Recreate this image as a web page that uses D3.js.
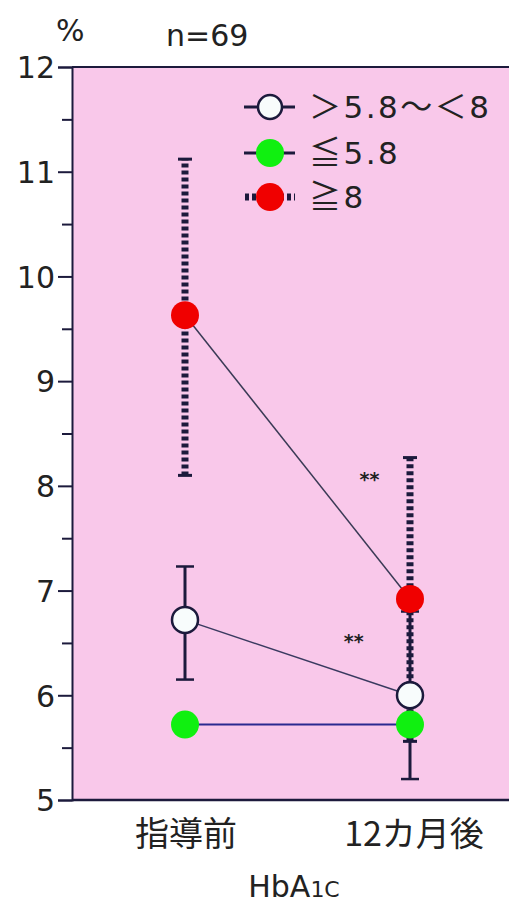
<!DOCTYPE html>
<html>
<head>
<meta charset="utf-8">
<script src="https://cdn.jsdelivr.net/npm/d3@7"></script>
<style>
  body { margin: 0; background: #fff; }
  svg { display: block; }
</style>
</head>
<body>
<div id="chart"></div>
<script>
var width = 509;
var height = 903;

// data
var categories = ["指導前", "12カ月後"];
var groups = ["mid", "low", "high"];
var groupLabels = [["＞", "5.8", "～", "＜", "8"], ["≦", "5.8"], ["≧", "8"]];
var midMean = [6.72, 6.0];
var midLow = [6.15, 5.2];
var midHigh = [7.23, 6.8];
var lowMean = [5.72, 5.72];
var highMean = [9.63, 6.92];
var highLow = [8.1, 5.56];
var highHigh = [11.12, 8.27];
var yTicks = [5, 6, 7, 8, 9, 10, 11, 12];
var yMinor = [5.5, 6.5, 7.5, 8.5, 9.5, 10.5, 11.5];
var stars = [{ label: "**", x: 0.82, y: 8.0 }, { label: "**", x: 0.75, y: 6.45 }];

var margin = { top: 67, left: 72, bottom: 103, right: 0 };
var latin = "DejaVu Sans, sans-serif";
var cjk = "Noto Sans CJK JP, sans-serif";

var svg = d3
  .select("#chart")
  .append("svg")
  .attr("width", width)
  .attr("height", height);

var y = d3.scaleLinear().domain([5, 12]).range([height - margin.bottom, margin.top]);
var x = d3.scalePoint().domain([0, 1]).range([185, 410]);

var ink = "#1c1a3c";

// pink panel
svg.append("rect")
  .attr("x", margin.left)
  .attr("y", margin.top)
  .attr("width", width - margin.left)
  .attr("height", height - margin.bottom - margin.top)
  .attr("fill", "#f9c8ea");

svg.append("line")
  .attr("x1", margin.left).attr("x2", width)
  .attr("y1", margin.top).attr("y2", margin.top)
  .attr("stroke", ink).attr("stroke-width", 2);
svg.append("line")
  .attr("x1", margin.left).attr("x2", width)
  .attr("y1", y(5)).attr("y2", y(5))
  .attr("stroke", ink).attr("stroke-width", 2.5);

// y axis
var yAxis = d3.axisLeft(y).tickValues(yTicks).tickSize(14).tickPadding(3).tickFormat(d3.format("d"));
var ga = svg.append("g")
  .attr("transform", "translate(" + margin.left + ",0)")
  .call(yAxis);
ga.select(".domain").attr("stroke", ink).attr("stroke-width", 2);
ga.selectAll(".tick line").attr("stroke", ink).attr("stroke-width", 2);
ga.selectAll(".tick text")
  .attr("font-family", latin)
  .attr("font-size", "30px")
  .attr("fill", "#222")
  .attr("dy", "0.36em");
var gm = svg.append("g")
  .attr("transform", "translate(" + margin.left + ",0)")
  .call(d3.axisLeft(y).tickValues(yMinor).tickSize(10).tickFormat(""));
gm.select(".domain").remove();
gm.selectAll(".tick line").attr("stroke", ink).attr("stroke-width", 2);

// top texts
svg.append("text").attr("x", 56).attr("y", 41).text("%")
  .attr("font-family", latin).attr("font-size", "30px").attr("fill", "#222");
svg.append("text").attr("x", 166).attr("y", 46).text("n=69")
  .attr("font-family", latin).attr("font-size", "30px").attr("fill", "#222");

// category labels
svg.selectAll(".cat")
  .data(categories)
  .enter()
  .append("text")
  .attr("class", "cat")
  .attr("x", function(d, i) { return x(i) + (i == 0 ? 1 : 4); })
  .attr("y", 846)
  .attr("text-anchor", "middle")
  .attr("font-family", cjk)
  .attr("font-size", "34px")
  .attr("fill", "#222")
  .text(function(d) { return d; });

var xt = svg.append("text")
  .attr("x", 294).attr("y", 897)
  .attr("text-anchor", "middle")
  .attr("font-family", latin)
  .attr("font-size", "30px")
  .attr("fill", "#222");
xt.append("tspan").text("HbA");
xt.append("tspan").attr("font-size", "22px").text("1C");

// dashed error bar helper (the ≧8 group)
function dashedBar(i, lo, hi) {
  svg.append("line")
    .attr("x1", x(i)).attr("x2", x(i))
    .attr("y1", y(lo)).attr("y2", y(hi))
    .attr("stroke", ink).attr("stroke-width", 7)
    .attr("stroke-dasharray", "4,3");
  [lo, hi].forEach(function(v) {
    svg.append("line")
      .attr("x1", x(i) - 7).attr("x2", x(i) + 7)
      .attr("y1", y(v)).attr("y2", y(v))
      .attr("stroke", ink).attr("stroke-width", 3);
  });
}
function solidBar(i, lo, hi) {
  svg.append("line")
    .attr("x1", x(i)).attr("x2", x(i))
    .attr("y1", y(lo)).attr("y2", y(hi))
    .attr("stroke", ink).attr("stroke-width", 3);
  [lo, hi].forEach(function(v) {
    svg.append("line")
      .attr("x1", x(i) - 9).attr("x2", x(i) + 9)
      .attr("y1", y(v)).attr("y2", y(v))
      .attr("stroke", ink).attr("stroke-width", 2.5);
  });
}

highMean.forEach(function(d, i) { dashedBar(i, highLow[i], highHigh[i]); });
midMean.forEach(function(d, i) { solidBar(i, midLow[i], midHigh[i]); });

// connecting lines
var line = d3.line()
  .x(function(d, i) { return x(i); })
  .y(function(d) { return y(d); });

svg.append("path").datum(highMean).attr("d", line)
  .attr("fill", "none").attr("stroke", "#3a3a55").attr("stroke-width", 1.5);
svg.append("path").datum(midMean).attr("d", line)
  .attr("fill", "none").attr("stroke", "#3a3a60").attr("stroke-width", 1.5);
svg.append("path").datum(lowMean).attr("d", line)
  .attr("fill", "none").attr("stroke", "#2a2a90").attr("stroke-width", 2);

// points
var r = 14;
svg.selectAll(".phigh").data(highMean).enter().append("circle")
  .attr("class", "phigh")
  .attr("cx", function(d, i) { return x(i); })
  .attr("cy", function(d) { return y(d); })
  .attr("r", r).attr("fill", "#f00000");
svg.selectAll(".plow").data(lowMean).enter().append("circle")
  .attr("class", "plow")
  .attr("cx", function(d, i) { return x(i); })
  .attr("cy", function(d) { return y(d); })
  .attr("r", r).attr("fill", "#10f010");
svg.selectAll(".pmid").data(midMean).enter().append("circle")
  .attr("class", "pmid")
  .attr("cx", function(d, i) { return x(i); })
  .attr("cy", function(d) { return y(d); })
  .attr("r", r - 1).attr("fill", "#f8fcfc")
  .attr("stroke", ink).attr("stroke-width", 2.5);

// significance stars
svg.selectAll(".star").data(stars).enter().append("text")
  .attr("class", "star")
  .attr("x", function(d) { return x(0) + d.x * (x(1) - x(0)); })
  .attr("y", function(d) { return y(d.y); })
  .attr("text-anchor", "middle")
  .attr("font-family", "DejaVu Sans, sans-serif")
  .attr("font-weight", "bold")
  .attr("font-size", "19px")
  .attr("fill", "#222")
  .text(function(d) { return d.label; });

// legend
var legY = [107, 153, 197];
var lx = 270;
var lg = svg.append("g");
groups.forEach(function(g, i) {
  var row = lg.append("g").attr("transform", "translate(0," + legY[i] + ")");
  if (g == "high") {
    row.append("line").attr("x1", lx - 25).attr("x2", lx + 25)
      .attr("stroke", ink).attr("stroke-width", 7).attr("stroke-dasharray", "4,3");
  } else {
    row.append("line").attr("x1", lx - 26).attr("x2", lx + 25)
      .attr("stroke", ink).attr("stroke-width", 3);
  }
  var c = row.append("circle").attr("cx", lx).attr("r", g == "mid" ? 12 : 14);
  if (g == "mid") c.attr("fill", "#f8fcfc").attr("stroke", ink).attr("stroke-width", 2.5);
  else if (g == "low") c.attr("fill", "#10f010");
  else c.attr("fill", "#f00000");
  var t = row.append("text")
    .attr("x", 309).attr("y", 0).attr("dy", "0.36em")
    .attr("font-family", latin)
    .attr("font-size", "31px")
    .attr("letter-spacing", "2.5px")
    .attr("fill", "#222");
  groupLabels[i].forEach(function(s) {
    var isSym = /[＞＜～≦≧]/.test(s);
    t.append("tspan")
      .attr("font-family", isSym ? cjk : latin)
      .attr("font-size", isSym ? "32px" : "31px")
      .text(s);
  });
});
</script>
</body>
</html>
